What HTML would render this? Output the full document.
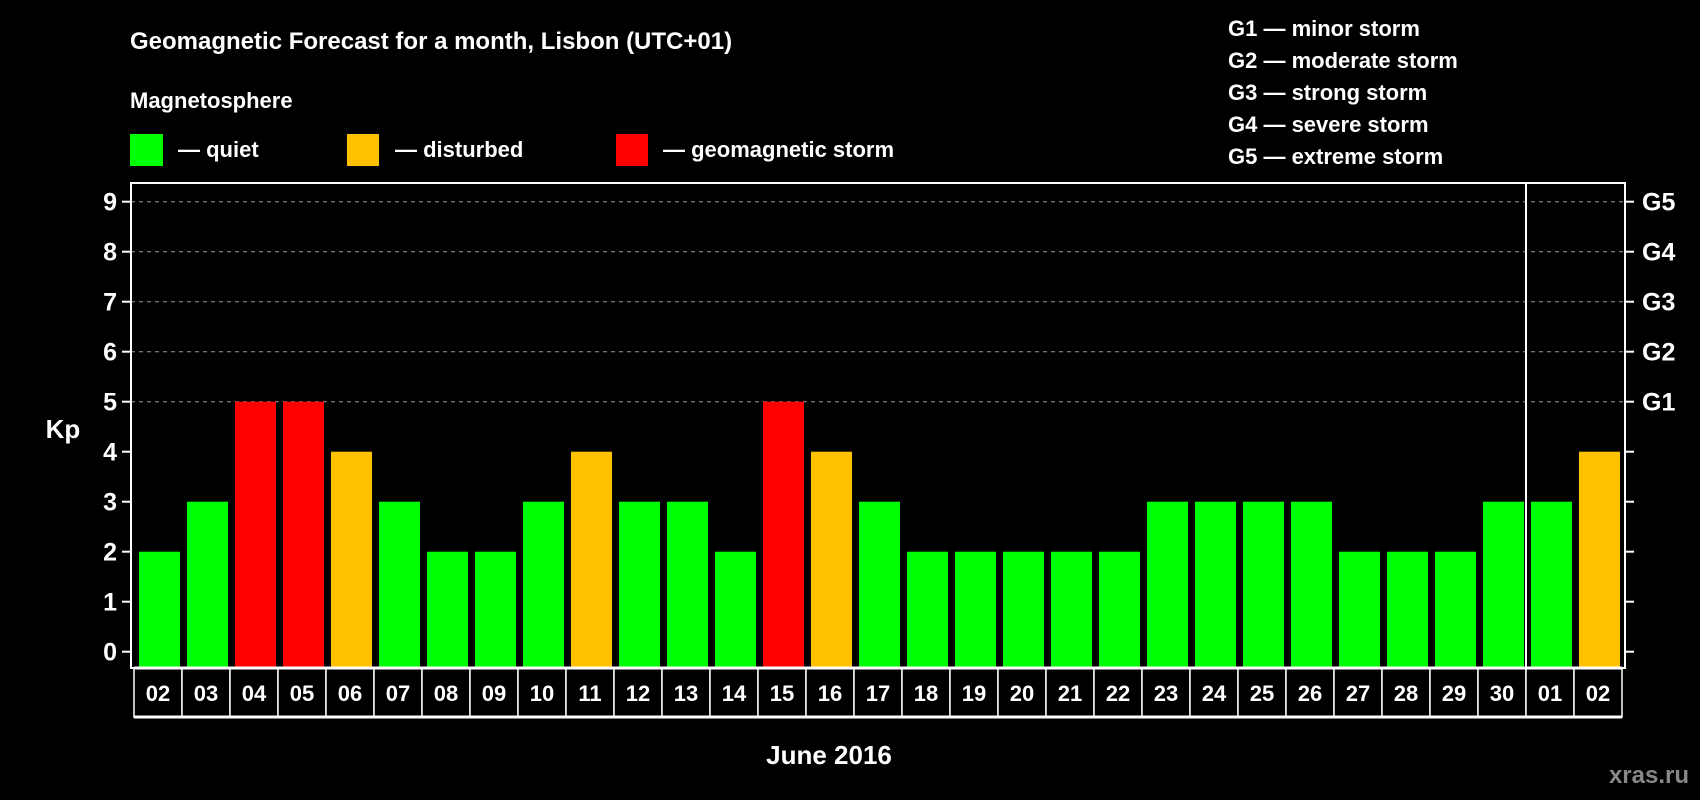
<!DOCTYPE html>
<html><head><meta charset="utf-8"><style>
body{margin:0;background:#000;}
svg{display:block;font-family:"Liberation Sans",Arial,sans-serif;font-weight:bold;}
</style></head><body>
<svg id="c" width="1700" height="800" viewBox="0 0 1700 800">
<rect width="1700" height="800" fill="#000"/>
<text x="130" y="49" font-size="24" fill="#fff">Geomagnetic Forecast for a month, Lisbon (UTC+01)</text>
<text x="130" y="108" font-size="22" fill="#fff">Magnetosphere</text>
<g><rect x="130" y="134" width="33" height="32" fill="#00ff00"/><text x="178" y="157" font-size="22" fill="#fff">— quiet</text></g>
<g><rect x="347" y="134" width="32" height="32" fill="#ffc000"/><text x="395" y="157" font-size="22" fill="#fff">— disturbed</text></g>
<g><rect x="616" y="134" width="32" height="32" fill="#ff0000"/><text x="663" y="157" font-size="22" fill="#fff">— geomagnetic storm</text></g>
<g font-size="22" fill="#fff">
<text x="1228" y="36">G1 — minor storm</text>
<text x="1228" y="68">G2 — moderate storm</text>
<text x="1228" y="100">G3 — strong storm</text>
<text x="1228" y="132">G4 — severe storm</text>
<text x="1228" y="164">G5 — extreme storm</text>
</g>
<text x="63" y="438" font-size="26" fill="#fff" text-anchor="middle">Kp</text>
<text x="829" y="764" font-size="26" fill="#fff" text-anchor="middle">June 2016</text>
<text x="1689" y="783" font-size="24" fill="#888" text-anchor="end">xras.ru</text>
<g id="plot"></g>
</svg>
<script>
const days=["02","03","04","05","06","07","08","09","10","11","12","13","14","15","16","17","18","19","20","21","22","23","24","25","26","27","28","29","30","01","02"];
const kp=[2,3,5,5,4,3,2,2,3,4,3,3,2,5,4,3,2,2,2,2,2,3,3,3,3,2,2,2,3,3,4];
const yTicks=[0,1,2,3,4,5,6,7,8,9];
const gLabels=["G1","G2","G3","G4","G5"];
const gLevels=[5,6,7,8,9];
const NS="http://www.w3.org/2000/svg";
const g=document.getElementById('plot');
const L=131,R=1625,T=183,B=668,X0=134,P=48;
const y=v=>651.7-v*50;
const x=i=>X0+i*P;
function mk(t,a,p){const e=document.createElementNS(NS,t);for(const k in a)e.setAttribute(k,a[k]);(p||g).appendChild(e);return e;}
gLevels.forEach(v=>{const e=mk('line',{x1:L,x2:R,y1:y(v),y2:y(v),stroke:'#999','stroke-width':1,'stroke-dasharray':'4 4'});

});
kp.forEach((v,i)=>{const c=v>=5?'#ff0000':(v>=4?'#ffc000':'#00ff00');
const e=mk('rect',{x:x(i)+5,y:y(v),width:41,height:B-y(v),fill:c});

});
mk('rect',{x:L,y:T,width:R-L,height:B-T,fill:'none',stroke:'#fff','stroke-width':2});
const sep=mk('line',{x1:x(29),x2:x(29),y1:T,y2:B,stroke:'#fff','stroke-width':2});


yTicks.forEach(v=>{mk('line',{x1:122,x2:L,y1:y(v),y2:y(v),stroke:'#fff','stroke-width':2});
mk('line',{x1:R,x2:1634,y1:y(v),y2:y(v),stroke:'#fff','stroke-width':2});
const t=mk('text',{x:117,y:y(v)+9,'font-size':25,fill:'#fff','text-anchor':'end'});t.textContent=v;

});
gLevels.forEach((v,i)=>{const t=mk('text',{x:1642,y:y(v)+9,'font-size':25,fill:'#fff'});t.textContent=gLabels[i];

});
days.forEach((d,i)=>{mk('rect',{x:x(i),y:B,width:P,height:49,fill:'#000',stroke:'#fff','stroke-width':1.5});
const t=mk('text',{x:x(i)+P/2,y:701,'font-size':22,fill:'#fff','text-anchor':'middle'});t.textContent=d;

});
mk('line',{x1:X0,x2:X0+31*P,y1:717,y2:717,stroke:'#fff','stroke-width':3});
mk('line',{x1:X0,x2:X0+31*P,y1:B,y2:B,stroke:'#fff','stroke-width':3});
</script>
</body></html>
